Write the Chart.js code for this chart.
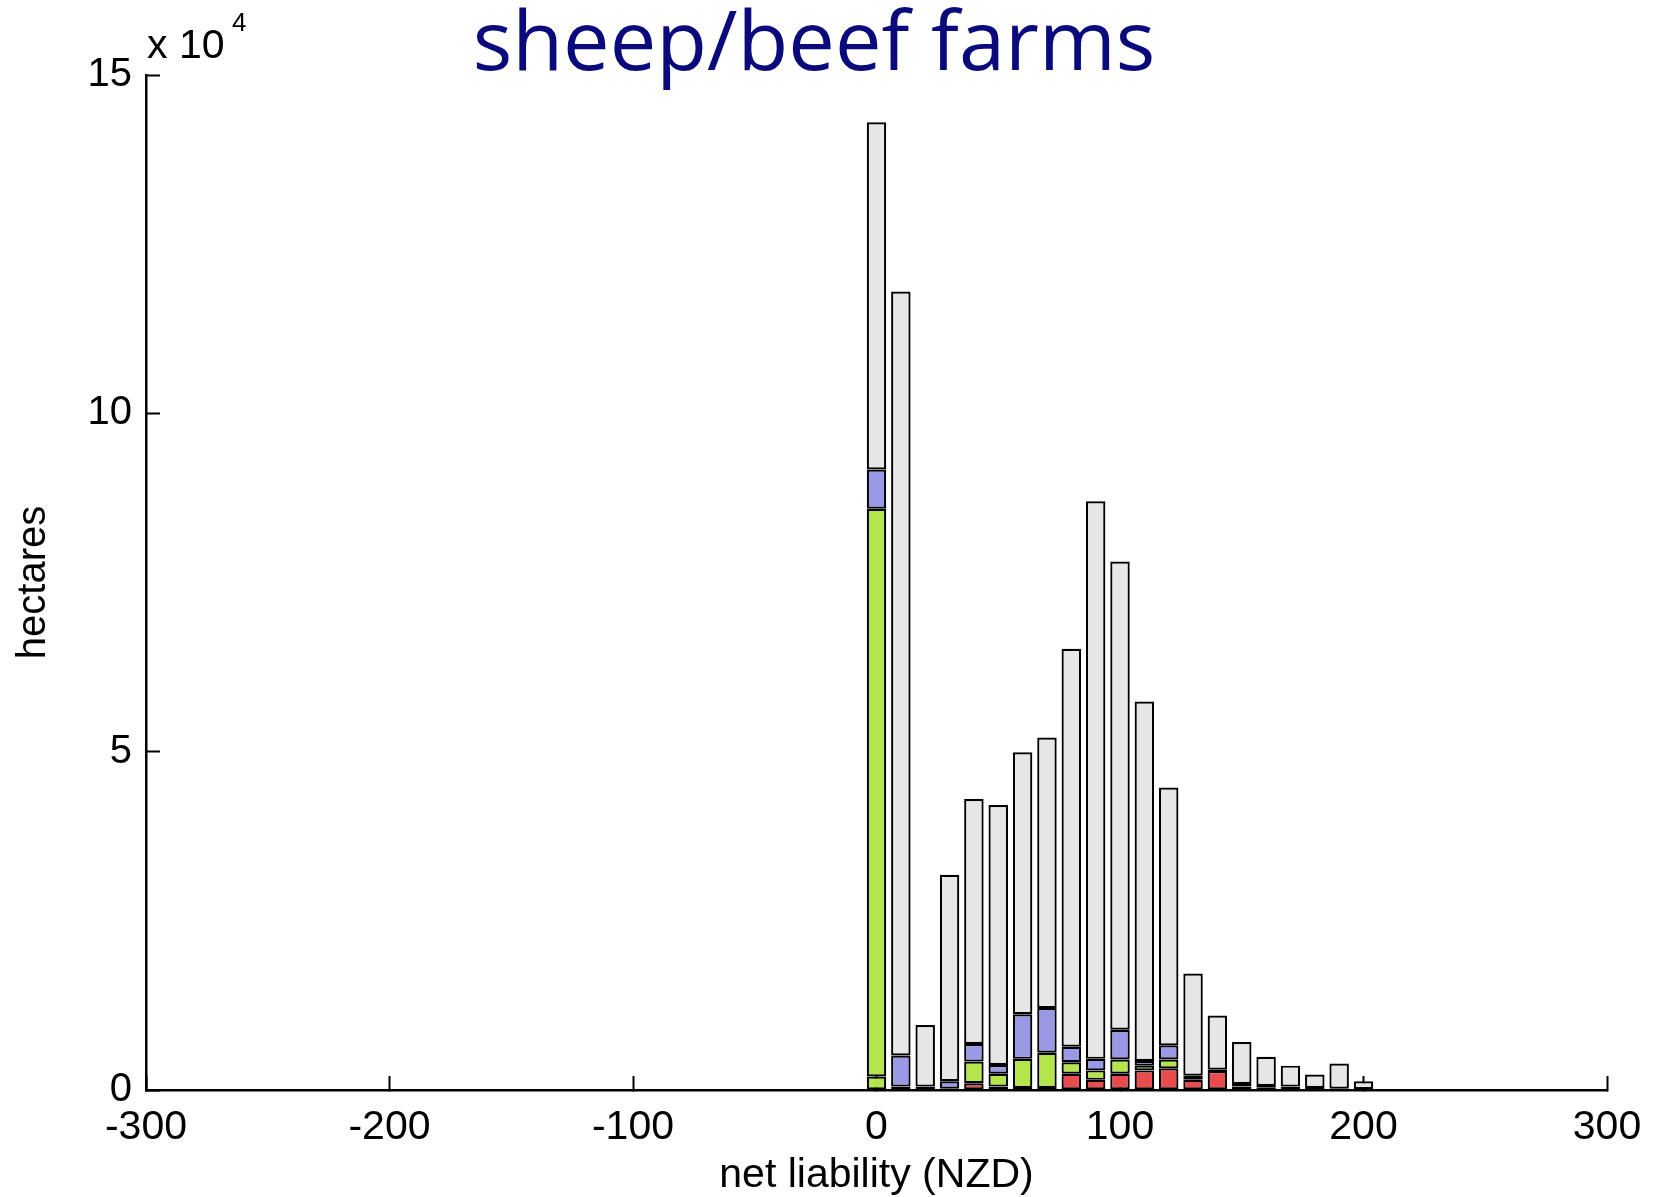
<!DOCTYPE html>
<html>
<head>
<meta charset="utf-8">
<title>sheep/beef farms</title>
<script src="https://cdn.jsdelivr.net/npm/chart.js@4.4.1/dist/chart.umd.min.js"></script>
<style>
  html, body { margin: 0; padding: 0; background: #fff; }
  canvas { display: block; }
</style>
</head>
<body>
<canvas id="histChart" width="1661" height="1197"></canvas>
<script>
// bin centres (NZD) and stacked hectare values, in units of 10^4 ha
const bins = [0, 10, 20, 30, 40, 50, 60, 70, 80, 90, 100, 110, 120, 130, 140, 150, 160, 170, 180, 190, 200];
const lowGreen = [0.20, 0, 0, 0, 0, 0, 0, 0, 0, 0, 0, 0, 0, 0, 0, 0, 0, 0, 0, 0, 0];
const red   = [0, 0, 0, 0, 0.10, 0.05, 0, 0, 0.24, 0.15, 0.24, 0.29, 0.32, 0.15, 0.28, 0.05, 0.04, 0.03, 0, 0, 0];
const dark  = [0, 0.05, 0.05, 0.02, 0, 0, 0.03, 0.03, 0, 0, 0, 0, 0, 0.06, 0.02, 0.04, 0.02, 0.02, 0.03, 0.02, 0.01];
const green = [8.39, 0, 0, 0, 0.32, 0.19, 0.43, 0.52, 0.17, 0.14, 0.21, 0.07, 0.13, 0, 0, 0, 0, 0, 0, 0, 0];
const blue  = [0.58, 0.46, 0, 0.11, 0.26, 0.13, 0.66, 0.66, 0.23, 0.17, 0.44, 0.07, 0.21, 0, 0, 0, 0, 0, 0, 0, 0];
const grey  = [5.13, 11.29, 0.91, 3.05, 3.62, 3.84, 3.87, 4.00, 5.88, 8.24, 6.92, 5.31, 3.81, 1.51, 0.80, 0.62, 0.43, 0.31, 0.20, 0.37, 0.12];
const xTicks = [-300, -200, -100, 0, 100, 200, 300];
const yTicks = [0, 5, 10, 15];

const FONT = "'Liberation Sans', Arial, sans-serif";
Chart.defaults.font.family = FONT;
Chart.defaults.color = "#000";

function series(values, colour) {
    return {
        data: bins.map((b, i) => ({ x: b, y: values[i] })),
        backgroundColor: colour,
        borderColor: "#000",
        borderWidth: 2.2,
        borderSkipped: false,
        categoryPercentage: 1,
        barPercentage: 0.8
    };
}

// title and the "x 10^4" multiplier
const textLayer = {
    id: "textLayer",
    afterDraw(chart) {
        const ctx = chart.ctx;
        ctx.save();
        ctx.fillStyle = "#0a0a7d";
        ctx.textAlign = "center";
        ctx.textBaseline = "alphabetic";
        ctx.font = "83px 'Open Sans'";
        ctx.fillText("sheep/beef farms", 814, 70);
        ctx.fillStyle = "#000";
        ctx.textAlign = "left";
        ctx.font = "41px " + FONT;
        ctx.fillText("x 10", 147, 58);
        ctx.font = "26px " + FONT;
        ctx.fillText("4", 232, 31);
        ctx.restore();
    }
};

new Chart(document.getElementById("histChart"), {
    type: "bar",
    data: {
        datasets: [
            series(lowGreen, "#b4e64c"),
            series(red, "#e84c4c"),
            series(dark, "#000000"),
            series(green, "#b4e64c"),
            series(blue, "#9999e6"),
            series(grey, "#e6e6e6")
        ]
    },
    options: {
        responsive: false,
        animation: false,
        layout: { padding: { top: 75, right: 54, bottom: 0, left: 0 } },
        plugins: {
            legend: { display: false },
            tooltip: { enabled: false }
        },
        scales: {
            x: {
                type: "linear",
                stacked: true,
                offset: false,
                min: xTicks[0],
                max: xTicks[xTicks.length - 1],
                afterBuildTicks: s => { s.ticks = xTicks.map(v => ({ value: v })); },
                afterFit: s => { s.height = 107; s.paddingLeft = 0; s.paddingRight = 0; },
                ticks: { font: { size: 41 }, padding: 27, maxRotation: 0 },
                grid: { offset: false, drawOnChartArea: false, tickLength: -14, tickColor: "#000", tickWidth: 2 },
                border: { color: "#000", width: 2.5 },
                title: { display: true, text: "net liability (NZD)", font: { size: 41, lineHeight: 1 }, padding: { top: 0, bottom: 1 } }
            },
            y: {
                stacked: true,
                min: 0,
                max: 15,
                afterBuildTicks: s => { s.ticks = yTicks.map(v => ({ value: v })); },
                afterFit: s => { s.width = 146; },
                ticks: { font: { size: 40 }, padding: 28 },
                grid: { drawOnChartArea: false, tickLength: -14, tickColor: "#000", tickWidth: 2 },
                border: { color: "#000", width: 2.5 },
                title: { display: true, text: "hectares", font: { size: 40 }, padding: { top: 10, bottom: 0 } }
            }
        }
    },
    plugins: [textLayer]
});
</script>
</body>
</html>
